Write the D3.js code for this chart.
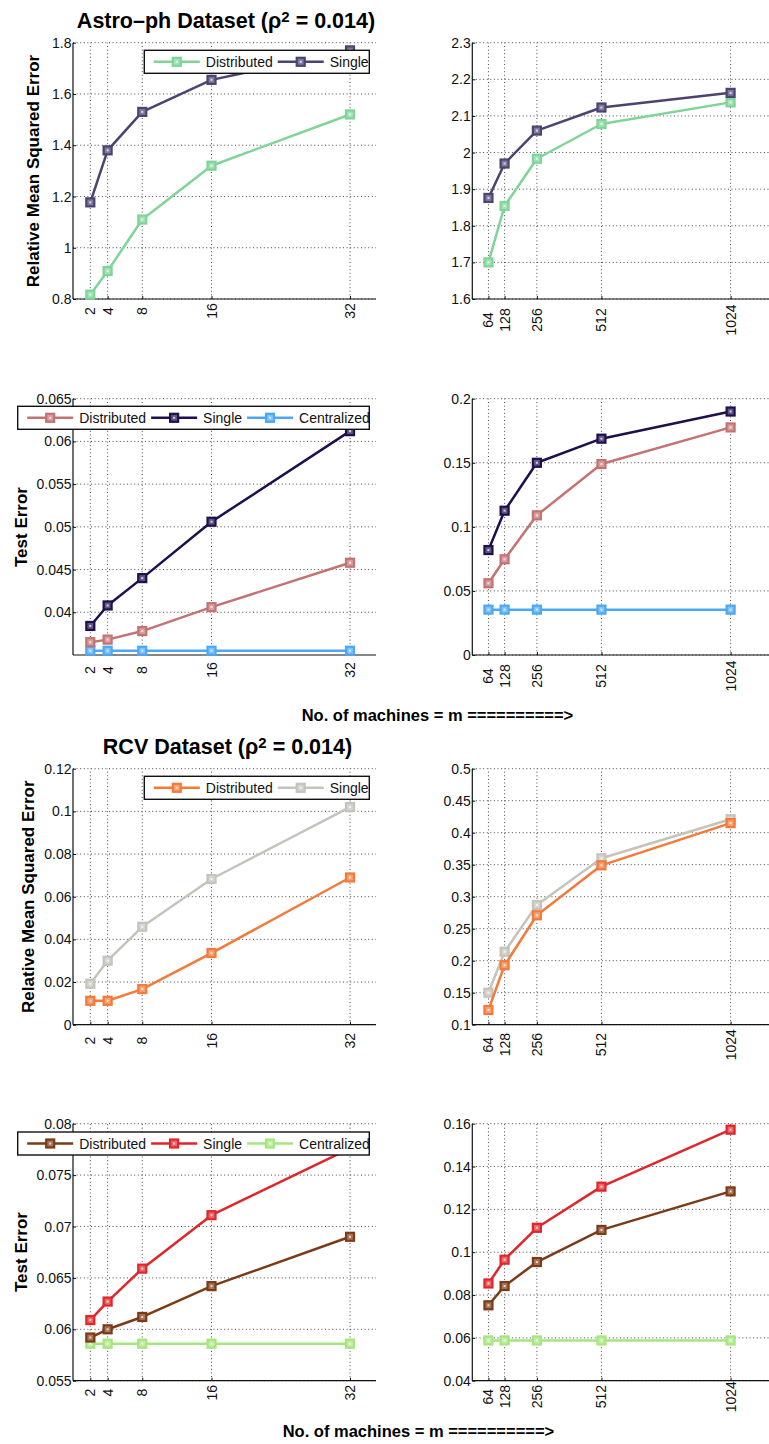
<!DOCTYPE html>
<html>
<head>
<meta charset="utf-8">
<script src="https://cdn.jsdelivr.net/npm/d3@7"></script>
<style>
  body { margin: 0; background: #fff; }
  svg { display: block; font-family: "Liberation Sans", Arial, sans-serif; }
</style>
</head>
<body>
<svg id="chart" width="769" height="1444"></svg>
<script>
// ---------------- DATA ----------------
const xLeft = [2, 4, 8, 16, 32];
const xRight = [64, 128, 256, 512, 1024];
const xLeftLabels = ["2", "4", "8", "16", "32"];
const xRightLabels = ["64", "128", "256", "512", "1024"];

const seriesNames3 = ["Distributed", "Single", "Centralized"];

// Astro-ph, relative MSE
const astroMseDistLeft = [0.817, 0.909, 1.11, 1.32, 1.52];
const astroMseSingleLeft = [1.177, 1.38, 1.53, 1.655, 1.77];
const astroMseDistRight = [1.70, 1.854, 1.983, 2.078, 2.137];
const astroMseSingleRight = [1.876, 1.97, 2.06, 2.123, 2.163];

// Astro-ph, test error
const astroTestDistLeft = [0.0365, 0.0368, 0.0378, 0.0406, 0.0458];
const astroTestSingleLeft = [0.0384, 0.0408, 0.0440, 0.0506, 0.0612];
const astroTestCentLeft = [0.0355, 0.0355, 0.0355, 0.0355, 0.0355];
const astroTestDistRight = [0.056, 0.0747, 0.109, 0.149, 0.1776];
const astroTestSingleRight = [0.0819, 0.1126, 0.150, 0.1688, 0.190];
const astroTestCentRight = [0.0354, 0.0354, 0.0354, 0.0354, 0.0354];

// RCV, relative MSE
const rcvMseDistLeft = [0.0112, 0.0112, 0.0167, 0.0336, 0.069];
const rcvMseSingleLeft = [0.0192, 0.030, 0.0459, 0.0683, 0.102];
const rcvMseDistRight = [0.123, 0.193, 0.271, 0.349, 0.415];
const rcvMseSingleRight = [0.150, 0.214, 0.287, 0.360, 0.421];

// RCV, test error
const rcvTestDistLeft = [0.0592, 0.0600, 0.0612, 0.0642, 0.0690];
const rcvTestSingleLeft = [0.0609, 0.0627, 0.0659, 0.0711, 0.0776];
const rcvTestCentLeft = [0.0586, 0.0586, 0.0586, 0.0586, 0.0586];
const rcvTestDistRight = [0.0752, 0.0842, 0.0954, 0.1104, 0.1284];
const rcvTestSingleRight = [0.0854, 0.0965, 0.1114, 0.1306, 0.1572];
const rcvTestCentRight = [0.0588, 0.0588, 0.0588, 0.0588, 0.0588];

// Y tick values and labels
const yTicksAstroMseLeft = [0.8, 1.0, 1.2, 1.4, 1.6, 1.8];
const yLabelsAstroMseLeft = ["0.8", "1", "1.2", "1.4", "1.6", "1.8"];
const yTicksAstroMseRight = [1.6, 1.7, 1.8, 1.9, 2.0, 2.1, 2.2, 2.3];
const yLabelsAstroMseRight = ["1.6", "1.7", "1.8", "1.9", "2", "2.1", "2.2", "2.3"];
const yTicksAstroTestLeft = [0.04, 0.045, 0.05, 0.055, 0.06, 0.065];
const yLabelsAstroTestLeft = ["0.04", "0.045", "0.05", "0.055", "0.06", "0.065"];
const yTicksAstroTestRight = [0, 0.05, 0.1, 0.15, 0.2];
const yLabelsAstroTestRight = ["0", "0.05", "0.1", "0.15", "0.2"];
const yTicksRcvMseLeft = [0, 0.02, 0.04, 0.06, 0.08, 0.1, 0.12];
const yLabelsRcvMseLeft = ["0", "0.02", "0.04", "0.06", "0.08", "0.1", "0.12"];
const yTicksRcvMseRight = [0.1, 0.15, 0.2, 0.25, 0.3, 0.35, 0.4, 0.45, 0.5];
const yLabelsRcvMseRight = ["0.1", "0.15", "0.2", "0.25", "0.3", "0.35", "0.4", "0.45", "0.5"];
const yTicksRcvTestLeft = [0.055, 0.06, 0.065, 0.07, 0.075, 0.08];
const yLabelsRcvTestLeft = ["0.055", "0.06", "0.065", "0.07", "0.075", "0.08"];
const yTicksRcvTestRight = [0.04, 0.06, 0.08, 0.1, 0.12, 0.14, 0.16];
const yLabelsRcvTestRight = ["0.04", "0.06", "0.08", "0.1", "0.12", "0.14", "0.16"];

// Colours
const cAstroDist = "#7fd497", cAstroSingle = "#4a4470";
const cAstroTDist = "#c47373", cAstroTSingle = "#200f4d", cAstroTCent = "#4ca8f5";
const cRcvDist = "#f47a3a", cRcvSingle = "#c4c4bc";
const cRcvTDist = "#7b3b17", cRcvTSingle = "#e0262a", cRcvTCent = "#a6e57f";

// ---------------- DRAWING ----------------
const svg = d3.select("#chart");
const FONT = '"Liberation Sans", Arial, sans-serif';

function drawPanel(p) {
  const g = svg.append("g");
  const x = d3.scaleLinear().domain(p.xDomain).range([p.left, p.right]);
  const y = d3.scaleLinear().domain(p.yDomain).range([p.bottom, p.top]);

  // grid
  g.selectAll(".gx").data(p.xTicks).join("line")
    .attr("x1", d => x(d)).attr("x2", d => x(d))
    .attr("y1", p.bottom).attr("y2", p.top)
    .attr("stroke", "#333").attr("stroke-width", 0.9).attr("stroke-dasharray", "1,2.6");
  g.selectAll(".gy").data(p.yTicks).join("line")
    .attr("x1", p.left).attr("x2", p.right)
    .attr("y1", d => y(d)).attr("y2", d => y(d))
    .attr("stroke", "#333").attr("stroke-width", 0.9).attr("stroke-dasharray", "1,2.6");

  // axes (inside ticks)
  const ax = g.append("g").attr("transform", `translate(0,${p.bottom})`)
    .call(d3.axisBottom(x).tickValues(p.xTicks).tickSize(-3).tickFormat(""));
  ax.select(".domain").attr("d", `M${p.left},0H${p.right}`).attr("stroke", "#111").attr("stroke-width", 1.2);
  ax.selectAll(".tick line").attr("stroke", "#111");

  const ay = g.append("g").attr("transform", `translate(${p.left},0)`)
    .call(d3.axisLeft(y).tickValues(p.yTicks).tickSize(-3).tickFormat(""));
  ay.select(".domain").attr("d", `M0,${p.bottom}V${p.top}`).attr("stroke", "#111").attr("stroke-width", 1.2);
  ay.selectAll(".tick line").attr("stroke", "#111");

  // y tick labels
  g.selectAll(".yl").data(p.yTicks).join("text")
    .attr("x", p.left - 1.5).attr("y", d => y(d)).attr("dy", "0.36em")
    .attr("text-anchor", "end").attr("font-size", 14).attr("fill", "#111")
    .attr("font-family", FONT)
    .text((d, i) => p.yLabels[i]);

  // x tick labels (rotated)
  g.selectAll(".xl").data(p.xTicks).join("text")
    .attr("transform", d => `translate(${x(d)},${p.bottom + p.xLabOff}) rotate(-90)`)
    .attr("dy", "0.36em").attr("text-anchor", "middle")
    .attr("font-size", 14).attr("fill", "#111").attr("font-family", FONT)
    .text((d, i) => p.xLabels[i]);

  // series
  const line = d3.line().x(d => x(d[0])).y(d => y(d[1]));
  p.series.forEach(s => {
    const pts = p.xTicks.map((xv, i) => [xv, s.values[i]]);
    g.append("path").attr("d", line(pts)).attr("fill", "none")
      .attr("stroke", s.color).attr("stroke-width", 2.5).attr("stroke-linejoin", "round");
    drawMarkers(g, pts.map(d => [x(d[0]), y(d[1])]), s.color);
  });
  return g;
}

function drawMarkers(g, pts, color) {
  const light = d3.interpolateRgb(color, "#ffffff")(0.3);
  g.selectAll(null).data(pts).join("rect")
    .attr("x", d => d[0] - 4).attr("y", d => d[1] - 4)
    .attr("width", 8).attr("height", 8)
    .attr("fill", light).attr("stroke", color).attr("stroke-width", 2.2);
  g.selectAll(null).data(pts).join("rect")
    .attr("x", d => d[0] - 1).attr("y", d => d[1] - 1)
    .attr("width", 2).attr("height", 2)
    .attr("fill", "#ffffff").attr("opacity", 0.7);
}

function drawLegend(box, names, colors) {
  const g = svg.append("g");
  g.append("rect").attr("x", box.x).attr("y", box.y).attr("width", box.w).attr("height", box.h)
    .attr("fill", "#fff").attr("stroke", "#111").attr("stroke-width", 1.4);
  const cy = box.y + box.h / 2;
  let cx = box.x + 9.5;
  names.forEach((n, i) => {
    g.append("line").attr("x1", cx).attr("x2", cx + 46).attr("y1", cy).attr("y2", cy)
      .attr("stroke", colors[i]).attr("stroke-width", 2.6);
    drawMarkers(g, [[cx + 23, cy]], colors[i]);
    const t = g.append("text").attr("x", cx + 52).attr("y", cy).attr("dy", "0.36em")
      .attr("font-size", 14).attr("font-family", FONT).attr("fill", "#111").text(n);
    cx = cx + 52 + t.node().getComputedTextLength() + 5;
  });
}

function drawTitle(cx, baseline, name) {
  const t = svg.append("text").attr("x", cx).attr("y", baseline)
    .attr("text-anchor", "middle").attr("font-size", 21.5).attr("font-weight", "bold")
    .attr("font-family", FONT).attr("fill", "#000");
  t.append("tspan").text(name + " (ρ");
  t.append("tspan").attr("dy", -6).attr("font-size", 15).text("2");
  t.append("tspan").attr("dy", 6).text(" = 0.014)");
}

function yTitle(xb, cy, txt) {
  svg.append("text").attr("transform", `translate(${xb},${cy}) rotate(-90)`)
    .attr("text-anchor", "middle").attr("font-size", 17).attr("font-weight", "bold")
    .attr("font-family", FONT).attr("fill", "#000").text(txt);
}

function xTitle(x0, baseline) {
  svg.append("text").attr("x", x0).attr("y", baseline)
    .attr("font-size", 16.5).attr("font-weight", "bold")
    .attr("font-family", FONT).attr("fill", "#000").text("No. of machines = m ==========>");
}

const L = { left: 73, right: 376, xDomain: [0, 35], xTicks: xLeft, xLabels: xLeftLabels };
const R = { left: 472.3, right: 775, xDomain: [0, 1200], xTicks: xRight, xLabels: xRightLabels };
const rows = [
  { top: 42.7, bottom: 299 },
  { top: 398.7, bottom: 655 },
  { top: 768.7, bottom: 1024.7 },
  { top: 1123.7, bottom: 1380.7 }
];

// Row 1: Astro MSE
drawPanel({ ...L, ...rows[0], xLabOff: 12, yDomain: [0.8, 1.8], yTicks: yTicksAstroMseLeft, yLabels: yLabelsAstroMseLeft,
  series: [{ values: astroMseDistLeft, color: cAstroDist }, { values: astroMseSingleLeft, color: cAstroSingle }] });
drawPanel({ ...R, ...rows[0], xLabOff: 21, yDomain: [1.6, 2.3], yTicks: yTicksAstroMseRight, yLabels: yLabelsAstroMseRight,
  series: [{ values: astroMseDistRight, color: cAstroDist }, { values: astroMseSingleRight, color: cAstroSingle }] });
drawLegend({ x: 144.3, y: 50.3, w: 225, h: 23 }, seriesNames3.slice(0, 2), [cAstroDist, cAstroSingle]);

// Row 2: Astro test error
drawPanel({ ...L, ...rows[1], xLabOff: 15, yDomain: [0.035, 0.065], yTicks: yTicksAstroTestLeft, yLabels: yLabelsAstroTestLeft,
  series: [{ values: astroTestCentLeft, color: cAstroTCent }, { values: astroTestDistLeft, color: cAstroTDist }, { values: astroTestSingleLeft, color: cAstroTSingle }] });
drawPanel({ ...R, ...rows[1], xLabOff: 21, yDomain: [0, 0.2], yTicks: yTicksAstroTestRight, yLabels: yLabelsAstroTestRight,
  series: [{ values: astroTestCentRight, color: cAstroTCent }, { values: astroTestDistRight, color: cAstroTDist }, { values: astroTestSingleRight, color: cAstroTSingle }] });
drawLegend({ x: 17.7, y: 406.3, w: 351.6, h: 23 }, seriesNames3, [cAstroTDist, cAstroTSingle, cAstroTCent]);

// Row 3: RCV MSE
drawPanel({ ...L, ...rows[2], xLabOff: 16, yDomain: [0, 0.12], yTicks: yTicksRcvMseLeft, yLabels: yLabelsRcvMseLeft,
  series: [{ values: rcvMseDistLeft, color: cRcvDist }, { values: rcvMseSingleLeft, color: cRcvSingle }] });
drawPanel({ ...R, ...rows[2], xLabOff: 20, yDomain: [0.1, 0.5], yTicks: yTicksRcvMseRight, yLabels: yLabelsRcvMseRight,
  series: [{ values: rcvMseSingleRight, color: cRcvSingle }, { values: rcvMseDistRight, color: cRcvDist }] });
drawLegend({ x: 144.3, y: 776.3, w: 225, h: 23 }, seriesNames3.slice(0, 2), [cRcvDist, cRcvSingle]);

// Row 4: RCV test error
drawPanel({ ...L, ...rows[3], xLabOff: 12, yDomain: [0.055, 0.08], yTicks: yTicksRcvTestLeft, yLabels: yLabelsRcvTestLeft,
  series: [{ values: rcvTestCentLeft, color: cRcvTCent }, { values: rcvTestDistLeft, color: cRcvTDist }, { values: rcvTestSingleLeft, color: cRcvTSingle }] });
drawPanel({ ...R, ...rows[3], xLabOff: 16, yDomain: [0.04, 0.16], yTicks: yTicksRcvTestRight, yLabels: yLabelsRcvTestRight,
  series: [{ values: rcvTestCentRight, color: cRcvTCent }, { values: rcvTestDistRight, color: cRcvTDist }, { values: rcvTestSingleRight, color: cRcvTSingle }] });
drawLegend({ x: 17.7, y: 1132, w: 351.6, h: 23 }, seriesNames3, [cRcvTDist, cRcvTSingle, cRcvTCent]);

// Titles and axis titles
drawTitle(226, 28, "Astro–ph Dataset");
drawTitle(227.5, 754, "RCV Dataset");
yTitle(39.3, 171, "Relative Mean Squared Error");
yTitle(26.7, 527, "Test Error");
yTitle(33.5, 896.7, "Relative Mean Squared Error");
yTitle(26.7, 1252, "Test Error");
xTitle(301.7, 721);
xTitle(282.7, 1437);
</script>
</body>
</html>
